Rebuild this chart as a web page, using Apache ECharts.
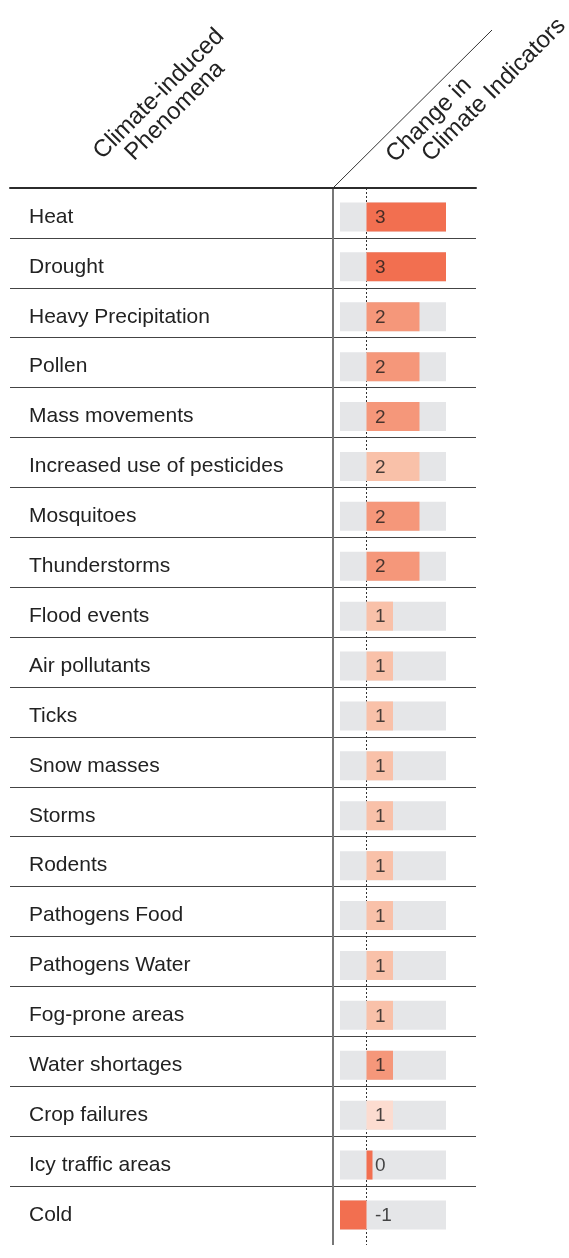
<!DOCTYPE html>
<html>
<head>
<meta charset="utf-8">
<script src="https://cdn.jsdelivr.net/npm/echarts@6/dist/echarts.min.js"></script>
<style>
  html, body { margin: 0; padding: 0; background: #fff; }
  #chart { width: 569px; height: 1258px; }
</style>
</head>
<body>
<div id="chart"></div>
<script>
// phenomena, top to bottom
const phenomena = [
  'Heat', 'Drought', 'Heavy Precipitation', 'Pollen', 'Mass movements',
  'Increased use of pesticides', 'Mosquitoes', 'Thunderstorms', 'Flood events',
  'Air pollutants', 'Ticks', 'Snow masses', 'Storms', 'Rodents',
  'Pathogens Food', 'Pathogens Water', 'Fog-prone areas', 'Water shortages',
  'Crop failures', 'Icy traffic areas', 'Cold'
];
// change in climate indicators
const change = [3, 3, 2, 2, 2, 2, 2, 2, 1, 1, 1, 1, 1, 1, 1, 1, 1, 1, 1, 0, -1];
// shading class of each bar
const shade = [
  'dark', 'dark', 'mid', 'mid', 'mid', 'light', 'mid', 'mid', 'light',
  'light', 'light', 'light', 'light', 'light', 'light', 'light', 'light',
  'mid', 'pale', 'dark', 'dark'
];
const axisMin = -1, axisMax = 3;

const palette = { dark: '#f26f50', mid: '#f5977a', light: '#f9c1a9', pale: '#fcdcd0' };
const font = '"Liberation Sans", Arial, Helvetica, sans-serif';

const chart = echarts.init(document.getElementById('chart'));

const rowH = 49.9;
const tableTop = 188;
const tableH = rowH * phenomena.length;
const barLeft = 340;
const textLeft = 29;

chart.setOption({
  animation: false,
  grid: [
    { left: 10, right: 93, top: tableTop, height: tableH },
    { left: barLeft, right: 123, top: tableTop + 4, height: tableH }
  ],
  xAxis: [
    {
      gridIndex: 0, type: 'value', position: 'top', min: 0, max: 1,
      axisLine: { show: true, lineStyle: { color: '#2b2b2b', width: 2 } },
      axisTick: { show: false }, axisLabel: { show: false }, splitLine: { show: false }
    },
    {
      gridIndex: 1, type: 'value', min: axisMin, max: axisMax, show: false
    }
  ],
  yAxis: [
    {
      gridIndex: 0, type: 'category', inverse: true, data: phenomena,
      axisLine: { show: false }, axisTick: { show: false }, axisLabel: { show: false },
      splitLine: {
        show: true, showMinLine: false, showMaxLine: false,
        lineStyle: { color: '#444', width: 1 }
      }
    },
    {
      gridIndex: 1, type: 'category', inverse: true, data: phenomena,
      axisLine: { show: false }, axisTick: { show: false }, splitLine: { show: false },
      axisLabel: {
        margin: barLeft - textLeft, align: 'left', fontSize: 21, color: '#222',
        fontFamily: font
      }
    }
  ],
  series: [
    { type: 'scatter', xAxisIndex: 0, yAxisIndex: 0, data: [], silent: true },
    {
      type: 'bar', xAxisIndex: 1, yAxisIndex: 1, barWidth: 29, barMinHeight: 6,
      showBackground: true, backgroundStyle: { color: '#e5e6e8' },
      data: change.map((v, i) => ({ value: v, itemStyle: { color: palette[shade[i]] } }))
    },
    {
      type: 'scatter', xAxisIndex: 1, yAxisIndex: 1, symbolSize: 1,
      itemStyle: { color: 'transparent' }, silent: true,
      data: change.map((v, i) => [0, i, v]),
      label: {
        show: true, position: 'right', distance: 8, offset: [0, 1],
        formatter: p => p.value[2],
        fontSize: 19, color: '#1a1a1a', fontFamily: font
      }
    }
  ]
});

// vertical rules: solid divider and dotted zero line
const zeroX = chart.convertToPixel({ xAxisIndex: 1 }, 0);
const ruleBottom = tableTop + tableH + 9;
const headStyle = { font: '24px ' + font, fill: '#222', align: 'center', verticalAlign: 'middle' };

chart.setOption({
  graphic: [
    { type: 'line', shape: { x1: 333, y1: tableTop, x2: 333, y2: ruleBottom }, style: { stroke: '#777', lineWidth: 2 } },
    { type: 'line', shape: { x1: zeroX, y1: tableTop, x2: zeroX, y2: ruleBottom }, style: { stroke: '#333', lineWidth: 1, lineDash: [2, 2] } },
    { type: 'line', shape: { x1: 333, y1: tableTop, x2: 492, y2: 30 }, style: { stroke: '#333', lineWidth: 1 } },
    { type: 'text', x: 159, y: 94, rotation: Math.PI / 4, style: Object.assign({ text: 'Climate-induced' }, headStyle) },
    { type: 'text', x: 175, y: 111, rotation: Math.PI / 4, style: Object.assign({ text: 'Phenomena' }, headStyle) },
    { type: 'text', x: 429, y: 120, rotation: Math.PI / 4, style: Object.assign({ text: 'Change in' }, headStyle) },
    { type: 'text', x: 494, y: 90, rotation: Math.PI / 4, style: Object.assign({ text: 'Climate Indicators' }, headStyle) }
  ]
});
</script>
</body>
</html>
